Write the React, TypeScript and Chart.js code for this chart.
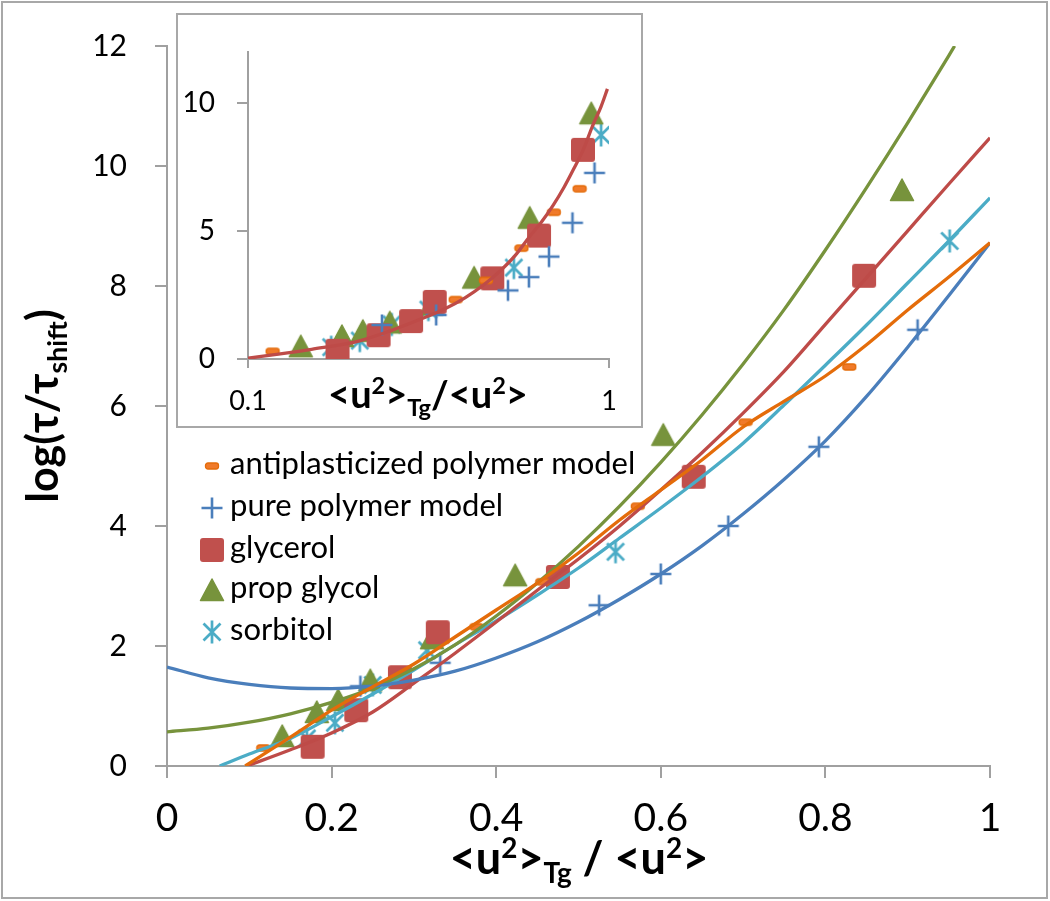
import React, { useEffect, useRef } from 'react';
import { Chart, registerables } from 'chart.js';
Chart.register(...registerables);

const FONT = "Lato, 'Noto Sans', 'DejaVu Sans', sans-serif";
const AXIS = '#a0a0a0';
const C_BLUE = '#4a7ebb';
const C_RED = '#be4b48';
const C_GREEN = '#77933c';
const C_CYAN = '#4bacc6';
const C_ORANGE = '#e46c0a';

// ---- measured points (x = <u2>Tg/<u2>, y = log(tau/tau_shift)) ----
const antiX = [0.117, 0.376, 0.456, 0.572, 0.703, 0.829];
const antiY = [0.3, 2.32, 3.07, 4.33, 5.73, 6.65];
const pureX = [0.235, 0.332, 0.525, 0.6, 0.682, 0.792, 0.912];
const pureY = [1.33, 1.72, 2.68, 3.2, 4.0, 5.32, 7.27];
const glyX = [0.177, 0.23, 0.283, 0.329, 0.475, 0.64, 0.847];
const glyY = [0.32, 0.93, 1.48, 2.23, 3.15, 4.82, 8.17];
const propX = [0.14, 0.182, 0.208, 0.247, 0.322, 0.423, 0.603, 0.893];
const propY = [0.5, 0.9, 1.1, 1.43, 2.13, 3.18, 5.52, 9.6];
const sorbX = [0.17, 0.204, 0.25, 0.316, 0.545, 0.951];
const sorbY = [0.46, 0.72, 1.35, 1.93, 3.57, 8.75];

// ---- curves ----
const antiCurveX = [0.095, 0.15, 0.2, 0.25, 0.3, 0.35, 0.4, 0.45, 0.5, 0.55, 0.6, 0.65, 0.7, 0.75, 0.8, 0.85, 0.9, 0.95, 1];
const antiCurveY = [0, 0.48, 0.93, 1.32, 1.7, 2.15, 2.6, 3.05, 3.55, 4.1, 4.6, 5.1, 5.65, 6.08, 6.5, 7.02, 7.6, 8.15, 8.72];
const pureCurveX = [0, 0.05, 0.1, 0.15, 0.2, 0.25, 0.3, 0.35, 0.4, 0.45, 0.5, 0.55, 0.6, 0.65, 0.7, 0.75, 0.8, 0.85, 0.9, 0.95, 1];
const pureCurveY = [1.65, 1.47, 1.36, 1.3, 1.29, 1.33, 1.43, 1.58, 1.8, 2.07, 2.4, 2.78, 3.2, 3.67, 4.2, 4.78, 5.42, 6.16, 6.98, 7.84, 8.72];
const glyCurveX = [0.097, 0.15, 0.2, 0.25, 0.3, 0.35, 0.4, 0.45, 0.5, 0.55, 0.6, 0.65, 0.7, 0.75, 0.8, 0.85, 0.9, 0.95, 1];
const glyCurveY = [0, 0.27, 0.55, 0.9, 1.38, 1.88, 2.4, 2.93, 3.45, 4.0, 4.6, 5.22, 5.88, 6.58, 7.36, 8.14, 8.92, 9.7, 10.47];
const propCurveX = [0, 0.05, 0.1, 0.15, 0.2, 0.25, 0.3, 0.35, 0.4, 0.45, 0.5, 0.55, 0.6, 0.65, 0.7, 0.75, 0.8, 0.85, 0.9, 0.95, 0.957];
const propCurveY = [0.57, 0.63, 0.73, 0.87, 1.06, 1.3, 1.62, 2.02, 2.5, 3.05, 3.66, 4.33, 5.06, 5.85, 6.7, 7.61, 8.6, 9.64, 10.72, 11.84, 12];
const sorbCurveX = [0.064, 0.1, 0.15, 0.2, 0.25, 0.3, 0.35, 0.4, 0.45, 0.5, 0.55, 0.6, 0.65, 0.7, 0.75, 0.8, 0.85, 0.9, 0.95, 1];
const sorbCurveY = [0, 0.2, 0.46, 0.82, 1.2, 1.6, 2.02, 2.42, 2.85, 3.3, 3.8, 4.3, 4.82, 5.38, 6.02, 6.68, 7.35, 8.05, 8.75, 9.47];

// ---- inset (log x) curve ----
const insetCurveX = [0.1, 0.12, 0.15, 0.2, 0.25, 0.3, 0.35, 0.4, 0.45, 0.5, 0.55, 0.6, 0.65, 0.7, 0.75, 0.8, 0.85, 0.9, 0.95, 0.99];
const insetCurveY = [0.03, 0.18, 0.38, 0.68, 1.12, 1.55, 1.95, 2.4, 2.9, 3.45, 4.05, 4.75, 5.35, 6.0, 6.7, 7.45, 8.2, 9.1, 9.85, 10.55];

const mainXTicks = [0, 0.2, 0.4, 0.6, 0.8, 1];
const mainYTicks = [0, 2, 4, 6, 8, 10, 12];
const insetXTicks = [0.1, 1];
const insetYTicks = [0, 5, 10];

const legendLabels = ['antiplasticized polymer model', 'pure polymer model', 'glycerol', 'prop glycol', 'sorbitol'];

type Seg = { t: string; s: number; dy: number };

function drawRich(ctx: CanvasRenderingContext2D, segs: Seg[], x: number, y: number, base: number, weight: string) {
  let total = 0;
  const widths: number[] = [];
  for (const sg of segs) {
    ctx.font = `${weight} ${base * sg.s}px ${FONT}`;
    const w = ctx.measureText(sg.t).width;
    widths.push(w);
    total += w;
  }
  let cx = x - total / 2;
  ctx.textAlign = 'left';
  ctx.textBaseline = 'alphabetic';
  ctx.fillStyle = '#000';
  segs.forEach((sg, i) => {
    ctx.font = `${weight} ${base * sg.s}px ${FONT}`;
    ctx.fillText(sg.t, cx, y + sg.dy * base);
    cx += widths[i];
  });
}

function mk(w: number, h: number, draw: (g: CanvasRenderingContext2D) => void) {
  const c = document.createElement('canvas');
  c.width = w;
  c.height = h;
  const g = c.getContext('2d')!;
  draw(g);
  return c;
}

function makeMarkers() {
  const dash = mk(16, 10, (g) => {
    g.beginPath();
    (g as any).roundRect(1.5, 2, 13, 6, 2.5);
    g.fillStyle = '#f07a2a';
    g.fill();
    g.lineWidth = 1.3;
    g.strokeStyle = C_ORANGE;
    g.stroke();
  });
  const plus = mk(24, 24, (g) => {
    g.strokeStyle = C_BLUE;
    g.lineWidth = 2.6;
    g.beginPath();
    g.moveTo(12, 1.5); g.lineTo(12, 22.5);
    g.moveTo(1.5, 12); g.lineTo(22.5, 12);
    g.stroke();
  });
  const square = mk(26, 26, (g) => {
    g.beginPath();
    (g as any).roundRect(1, 1, 24, 24, 3);
    g.fillStyle = '#c0504d';
    g.fill();
  });
  const tri = mk(26, 26, (g) => {
    g.beginPath();
    g.moveTo(13, 2);
    g.lineTo(24.5, 23.5);
    g.lineTo(1.5, 23.5);
    g.closePath();
    g.fillStyle = C_GREEN;
    g.strokeStyle = C_GREEN;
    g.lineJoin = 'round';
    g.lineWidth = 1.5;
    g.fill();
    g.stroke();
  });
  const star = mk(26, 26, (g) => {
    g.strokeStyle = C_CYAN;
    g.lineWidth = 2.7;
    g.beginPath();
    g.moveTo(13, 1.5); g.lineTo(13, 24.5);
    g.moveTo(4.5, 4.5); g.lineTo(21.5, 21.5);
    g.moveTo(21.5, 4.5); g.lineTo(4.5, 21.5);
    g.stroke();
  });
  return { dash, plus, square, tri, star };
}

const pts = (xs: number[], ys: number[]) => xs.map((x, i) => ({ x, y: ys[i] }));

export default function App() {
  const mainRef = useRef<HTMLCanvasElement>(null);
  const insetRef = useRef<HTMLCanvasElement>(null);

  useEffect(() => {
    const m = makeMarkers();
    const markerImgs = [m.dash, m.plus, m.square, m.tri, m.star];
    const markerData = [pts(antiX, antiY), pts(pureX, pureY), pts(glyX, glyY), pts(propX, propY), pts(sorbX, sorbY)];
    const scatterSets = () =>
      markerData.map((d, i) => ({
        data: d,
        pointStyle: markerImgs[i] as any,
        pointRadius: 10,
        pointHoverRadius: 10,
        showLine: false,
        order: 2,
      }));
    const lineSet = (xs: number[], ys: number[], color: string) => ({
      data: pts(xs, ys),
      showLine: true,
      borderColor: color,
      backgroundColor: color,
      borderWidth: 3.3,
      pointRadius: 0,
      pointHoverRadius: 0,
      fill: false,
      cubicInterpolationMode: 'monotone' as const,
      order: 1,
    });

    const gridOpts = (len: number) => ({
      drawOnChartArea: false,
      drawTicks: true,
      tickLength: len,
      color: AXIS,
      lineWidth: 2,
    });

    const mainPlugin = {
      id: 'mainDeco',
      beforeDraw(chart: any) {
        const ctx = chart.ctx as CanvasRenderingContext2D;
        ctx.save();
        ctx.fillStyle = '#fff';
        ctx.fillRect(0, 0, chart.width, chart.height);
        ctx.restore();
      },
      afterDraw(chart: any) {
        const ctx = chart.ctx as CanvasRenderingContext2D;
        ctx.save();
        ctx.strokeStyle = '#a8a8a8';
        ctx.lineWidth = 2;
        ctx.strokeRect(2, 2, 1045, 896);
        // y title
        ctx.save();
        ctx.translate(58, 406);
        ctx.rotate(-Math.PI / 2);
        drawRich(ctx, [
          { t: 'log(τ/τ', s: 1, dy: 0 },
          { t: 'shift', s: 0.62, dy: 0.22 },
          { t: ')', s: 1, dy: 0 },
        ], 0, 0, 43, 'bold');
        ctx.restore();
        // x title
        drawRich(ctx, [
          { t: '<u', s: 1, dy: 0 },
          { t: '2', s: 0.62, dy: -0.36 },
          { t: '>', s: 1, dy: 0 },
          { t: 'Tg', s: 0.62, dy: 0.2 },
          { t: ' / <u', s: 1, dy: 0 },
          { t: '2', s: 0.62, dy: -0.36 },
          { t: '>', s: 1, dy: 0 },
        ], 579, 874, 45, 'bold');
        // legend
        const rows = [466, 508, 550, 590, 632];
        ctx.font = `31px ${FONT}`;
        ctx.textAlign = 'left';
        ctx.textBaseline = 'middle';
        ctx.fillStyle = '#000';
        legendLabels.forEach((lab, i) => {
          const img = markerImgs[i];
          ctx.drawImage(img, 212 - img.width / 2, rows[i] - img.height / 2);
          ctx.fillText(lab, 230, rows[i] - 2);
        });
        ctx.restore();
      },
    };

    const main = new Chart(mainRef.current!, {
      type: 'scatter',
      data: {
        datasets: [
          lineSet(antiCurveX, antiCurveY, C_ORANGE),
          lineSet(pureCurveX, pureCurveY, C_BLUE),
          lineSet(glyCurveX, glyCurveY, C_RED),
          lineSet(propCurveX, propCurveY, C_GREEN),
          lineSet(sorbCurveX, sorbCurveY, C_CYAN),
          ...scatterSets(),
        ] as any,
      },
      options: {
        animation: false,
        responsive: false,
        devicePixelRatio: 1,
        events: [],
        layout: { padding: { left: 0, top: 46, right: 60, bottom: 0 } },
        plugins: { legend: { display: false }, tooltip: { enabled: false } },
        scales: {
          x: {
            type: 'linear',
            min: 0,
            max: 1,
            afterFit: (s: any) => { s.height = 135; },
            afterBuildTicks: (s: any) => { s.ticks = mainXTicks.map((v) => ({ value: v })); },
            ticks: {
              autoSkip: false,
              maxRotation: 0,
              padding: 17,
              color: '#000',
              font: { family: FONT, size: 39 },
              callback: (v: any) => String(+Number(v).toFixed(1)),
            },
            grid: gridOpts(12),
            border: { color: AXIS, width: 2 },
          },
          y: {
            min: 0,
            max: 12,
            afterFit: (s: any) => { s.width = 167; },
            afterBuildTicks: (s: any) => { s.ticks = mainYTicks.map((v) => ({ value: v })); },
            ticks: {
              padding: 28,
              color: '#000',
              font: { family: FONT, size: 30 },
              callback: (v: any) => String(v),
            },
            grid: gridOpts(12),
            border: { color: AXIS, width: 2 },
          },
        },
      } as any,
      plugins: [mainPlugin],
    });

    const insetPlugin = {
      id: 'insetDeco',
      beforeDraw(chart: any) {
        const ctx = chart.ctx as CanvasRenderingContext2D;
        ctx.save();
        ctx.fillStyle = '#fff';
        ctx.fillRect(0, 0, chart.width, chart.height);
        ctx.restore();
      },
      afterDraw(chart: any) {
        const ctx = chart.ctx as CanvasRenderingContext2D;
        ctx.save();
        ctx.strokeStyle = '#a8a8a8';
        ctx.lineWidth = 2;
        ctx.strokeRect(1, 1, chart.width - 2, chart.height - 2);
        drawRich(ctx, [
          { t: '<u', s: 1, dy: 0 },
          { t: '2', s: 0.62, dy: -0.36 },
          { t: '>', s: 1, dy: 0 },
          { t: 'Tg', s: 0.62, dy: 0.2 },
          { t: '/<u', s: 1, dy: 0 },
          { t: '2', s: 0.62, dy: -0.36 },
          { t: '>', s: 1, dy: 0 },
        ], 252, 395, 38, 'bold');
        ctx.restore();
      },
    };

    const inset = new Chart(insetRef.current!, {
      type: 'scatter',
      data: {
        datasets: [
          lineSet(insetCurveX, insetCurveY, C_RED),
          ...scatterSets(),
        ] as any,
      },
      options: {
        animation: false,
        responsive: false,
        devicePixelRatio: 1,
        events: [],
        layout: { padding: { left: 0, top: 20, right: 34, bottom: 0 } },
        plugins: { legend: { display: false }, tooltip: { enabled: false } },
        scales: {
          x: {
            type: 'logarithmic',
            min: 0.1,
            max: 1,
            afterFit: (s: any) => { s.height = 69; },
            afterBuildTicks: (s: any) => { s.ticks = insetXTicks.map((v) => ({ value: v })); },
            ticks: {
              autoSkip: false,
              maxRotation: 0,
              padding: 17,
              color: '#000',
              font: { family: FONT, size: 27 },
              callback: (v: any) => String(v),
            },
            grid: gridOpts(9),
            border: { color: AXIS, width: 2 },
          },
          y: {
            min: 0,
            max: 12,
            afterFit: (s: any) => { s.width = 72; },
            afterBuildTicks: (s: any) => { s.ticks = insetYTicks.map((v) => ({ value: v })); },
            ticks: {
              padding: 22,
              color: '#000',
              font: { family: FONT, size: 28 },
              callback: (v: any) => String(v),
            },
            grid: gridOpts(11),
            border: { color: AXIS, width: 2 },
          },
        },
      } as any,
      plugins: [insetPlugin],
    });

    return () => {
      main.destroy();
      inset.destroy();
    };
  }, []);

  return (
    <div style={{ position: 'absolute', left: 0, top: 0, width: 1050, height: 901, background: '#fff' }}>
      <canvas ref={mainRef} width={1050} height={901} style={{ position: 'absolute', left: 0, top: 0 }} />
      <canvas ref={insetRef} width={467} height={415} style={{ position: 'absolute', left: 176, top: 13 }} />
    </div>
  );
}
